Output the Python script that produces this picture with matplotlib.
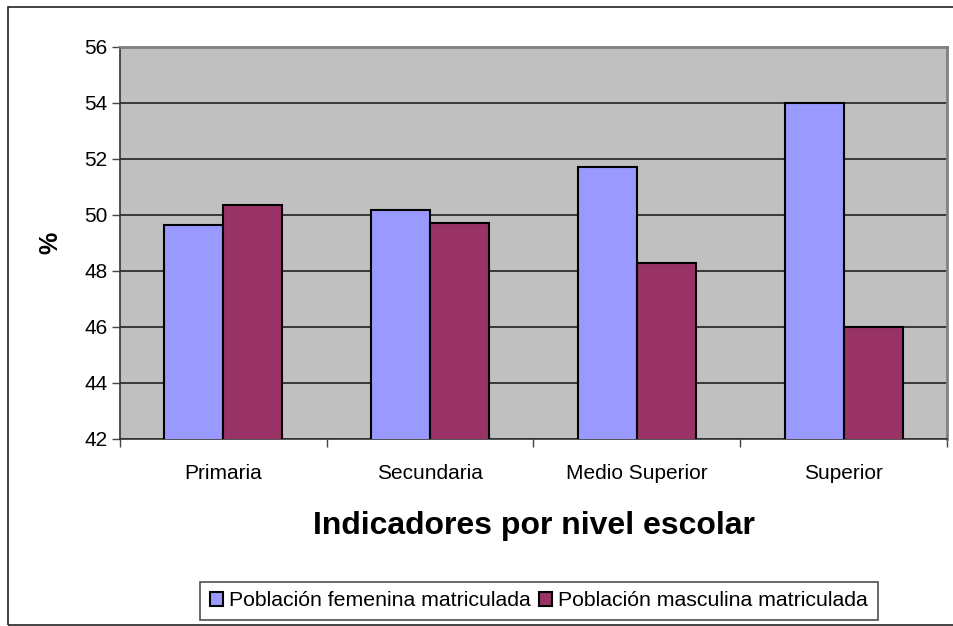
import matplotlib
matplotlib.use("Agg")
import matplotlib.pyplot as plt
import numpy as np
from matplotlib.patches import Rectangle

categories = ["Primaria", "Secundaria", "Medio Superior", "Superior"]
femenina = [49.64, 50.18, 51.70, 54.0]
masculina = [50.36, 49.70, 48.28, 46.0]
series_names = ["Población femenina matriculada", "Población masculina matriculada"]
yticks = [42, 44, 46, 48, 50, 52, 54, 56]

plt.rcParams['font.family'] = ['Liberation Sans', 'DejaVu Sans']

W, H = 954, 626
fig = plt.figure(figsize=(W / 100, H / 100), dpi=100)

# outer chart border (right edge falls outside the image)
fig.patches.append(Rectangle((8 / W, 1 / H), (W + 20) / W, (H - 8) / H,
                             transform=fig.transFigure, fill=False,
                             edgecolor="#222222", linewidth=1.2, clip_on=False))

left, right, top, bottom = 120, 947, 47, 439
ax = fig.add_axes([left / W, 1 - bottom / H, (right - left) / W, (bottom - top) / H])
ax.set_facecolor("#C0C0C0")

x = np.arange(len(categories))
bw = 1 / 3.5
ax.bar(x - bw / 2, femenina, bw, color="#9999FF", edgecolor="black",
       linewidth=1.5, zorder=3, label=series_names[0])
ax.bar(x + bw / 2, masculina, bw, color="#993366", edgecolor="black",
       linewidth=1.5, zorder=3, label=series_names[1])

ax.set_ylim(42, 56)
ax.set_xlim(-0.5, len(categories) - 0.5)
ax.set_yticks(yticks)
ax.set_yticklabels([str(v) for v in yticks], fontsize=15)
ax.yaxis.grid(True, color="#222222", linewidth=1.2, zorder=1)
ax.set_axisbelow(True)

ax.set_xticks(x)
ax.set_xticklabels(categories, fontsize=15)
ax.tick_params(axis="x", length=0, pad=18)
ax.set_xticks(np.arange(len(categories) + 1) - 0.5, minor=True)
ax.tick_params(axis="x", which="minor", length=6, color="#444444", width=1)
ax.tick_params(axis="y", length=6, color="#444444", width=1, pad=3)

for s in ["top", "right"]:
    ax.spines[s].set_color("#808080")
    ax.spines[s].set_linewidth(2)
for s in ["left", "bottom"]:
    ax.spines[s].set_color("#333333")
    ax.spines[s].set_linewidth(1.2)

ax.set_ylabel("%", fontsize=18, fontweight="bold", labelpad=16)
ax.set_xlabel("Indicadores por nivel escolar", fontsize=23, fontweight="bold", labelpad=20)

leg = fig.legend(loc="center", bbox_to_anchor=((193 + 885) / 2 / W, 1 - 601 / H),
                 ncol=2, fontsize=15.3, frameon=True, fancybox=False,
                 edgecolor="#222222", handlelength=0.6, handleheight=0.6,
                 handletextpad=0.3, columnspacing=0.4, borderpad=0.45)
leg.get_frame().set_linewidth(1.2)

fig.savefig("out.png", dpi=100)
